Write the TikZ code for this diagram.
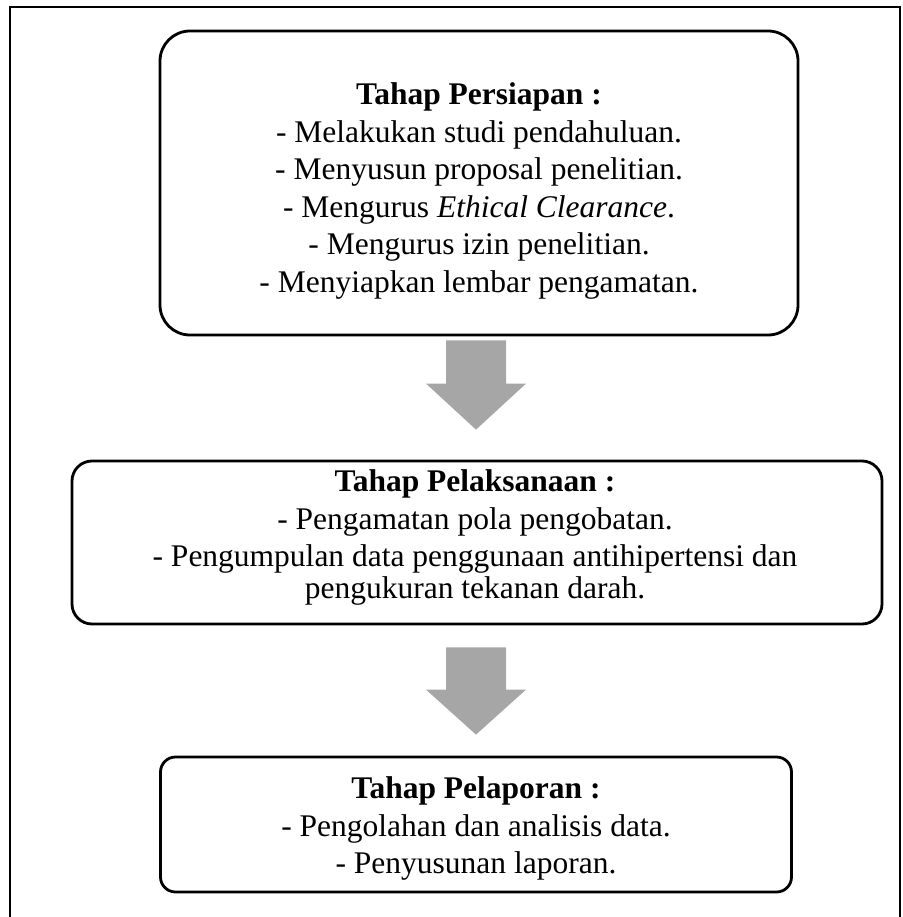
\documentclass[tikz,border=0pt]{standalone}
\usepackage{fontspec}
\setmainfont{Liberation Serif}
\usetikzlibrary{calc}
\definecolor{arrowgray}{RGB}{166,166,166}
\tikzset{
  stagebox/.style={draw=black, line width=2.8pt, inner sep=0pt},
  stagetext/.style={align=center, inner sep=0pt, font=\fontsize{31.5}{37.5}\selectfont},
  blockarrow/.style={fill=arrowgray, draw=none},
  frameline/.style={draw=black, line width=2.8pt}
}
\begin{document}
\begin{tikzpicture}[x=1pt,y=-1pt]
\useasboundingbox (0,0) rectangle (902,917);
\draw[frameline] (10,917) -- (10,7) -- (900,7) -- (900,917);

\node[stagebox, rounded corners=30pt, minimum width=638pt, minimum height=304pt] (b1) at (479,183) {};
\node[stagetext] (t1) at ($(b1.center)+(0,8)$)
  {\textbf{Tahap Persiapan :}\\
   - Melakukan studi pendahuluan.\\
   - Menyusun proposal penelitian.\\
   - Mengurus \textit{Ethical Clearance}.\\
   - Mengurus izin penelitian.\\
   - Menyiapkan lembar pengamatan.};

\node[stagebox, rounded corners=20pt, minimum width=810pt, minimum height=163pt] (b2) at (477,542.5) {};
\node[stagetext] (t2) at ($(b2.center)+(-2,-5)$)
  {\textbf{Tahap Pelaksanaan :}\\
   - Pengamatan pola pengobatan.\\
   - Pengumpulan data penggunaan antihipertensi dan\\[-6pt]
   pengukuran tekanan darah.};

\node[stagebox, rounded corners=15pt, minimum width=631pt, minimum height=135pt] (b3) at (476,824.5) {};
\node[stagetext] (t3) at ($(b3.center)+(0,4)$)
  {\textbf{Tahap Pelaporan :}\\
   - Pengolahan dan analisis data.\\
   - Penyusunan laporan.};

% block arrows
\coordinate (a1s) at ($(b1.south)+(-3,4)$);
\coordinate (a1t) at ($(b2.north)+(-1,-30)$);
\fill[blockarrow] ($(a1s)+(-30,0)$) -- ($(a1s)+(30,0)$) -- ($(a1t)+(30,-46)$) -- ($(a1t)+(50,-46)$)
  -- (a1t) -- ($(a1t)+(-50,-46)$) -- ($(a1t)+(-30,-46)$) -- cycle;

\coordinate (a2s) at ($(b2.south)+(-1,22)$);
\coordinate (a2t) at ($(b3.north)+(0,-21)$);
\fill[blockarrow] ($(a2s)+(-30,0)$) -- ($(a2s)+(30,0)$) -- ($(a2t)+(30,-45)$) -- ($(a2t)+(50,-45)$)
  -- (a2t) -- ($(a2t)+(-50,-45)$) -- ($(a2t)+(-30,-45)$) -- cycle;
\end{tikzpicture}
\end{document}
